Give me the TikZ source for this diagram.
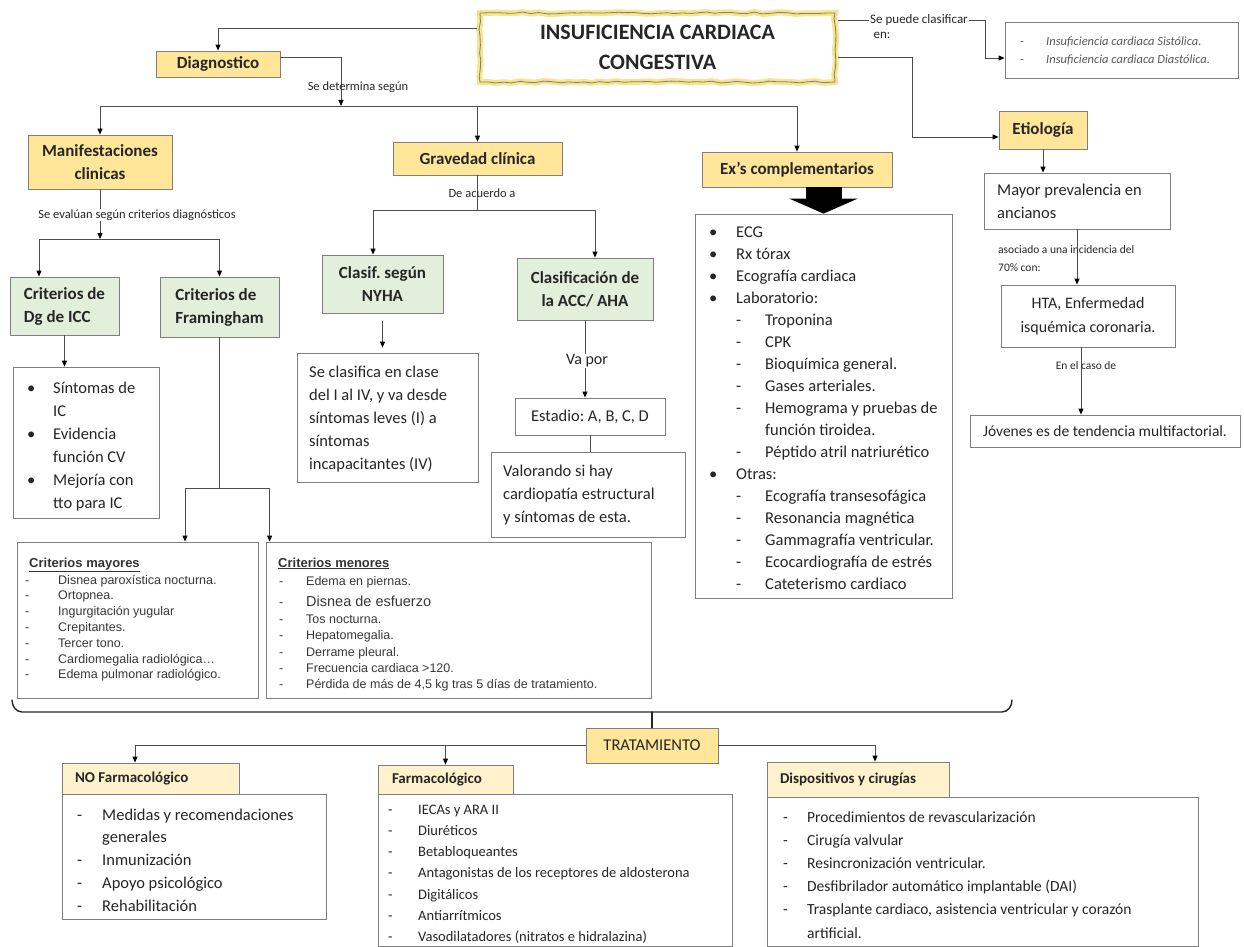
\documentclass[tikz,border=0pt]{standalone}
\usepackage{fontspec}
\setmainfont{Carlito}
\newfontfamily\arialfont{Liberation Sans}
\usetikzlibrary{arrows.meta,decorations.pathmorphing}
\frenchspacing

\definecolor{hdrgold}{HTML}{FFE699}
\definecolor{hdrpale}{HTML}{FFF2CC}
\definecolor{critgreen}{HTML}{E2EFDA}
\definecolor{boxedge}{HTML}{7F7F7F}
\definecolor{wire}{HTML}{4D4D4D}
\definecolor{ink}{HTML}{262626}
\definecolor{glow}{HTML}{F7E48C}

\newcommand\fsz[2]{\fontsize{#1}{#2}\selectfont}

\begin{document}
\begin{tikzpicture}[x=1pt, y=-1pt,
  every node/.style={text=ink, font=\fsz{16.5}{20}},
  box/.style={draw=boxedge, fill=white, line width=0.8pt, inner sep=0pt},
  gold/.style={box, fill=hdrgold, font=\fsz{17}{23}\bfseries},
  pale/.style={box, fill=hdrpale, font=\fsz{15}{18}\bfseries},
  crit/.style={box, fill=critgreen, font=\fsz{17}{23}\bfseries, align=left},
  ttl/.style={inner sep=0pt, decorate, decoration={random steps, segment length=8pt, amplitude=1pt},
    preaction={fill=white}, draw=glow, line width=6pt, postaction={draw=boxedge, line width=0.8pt},
    font=\fsz{22}{30}\bfseries, align=center},
  lbl/.style={inner sep=1pt, font=\fsz{12.5}{15}},
  li/.style={anchor=base west, inner sep=0pt},
  ali/.style={li, font=\arialfont\fsz{12.5}{15}, text=black!78},
  ln/.style={draw=wire, line width=0.9pt},
  arr/.style={ln, -{Triangle[length=6pt, width=5pt, color=black]}},
  blk/.style={draw=black, line width=36pt, -{Triangle[length=15pt 0 0, width=68pt 0 0]}},
  brace/.style={draw=black!85, line width=1.4pt, line cap=round},
]
\useasboundingbox (0,0) rectangle (1244,947);
\pgfmathsetseed{5}

% title and top row
\node[ttl, minimum width=355pt, minimum height=69pt] (icc) at (657.5,47.5) {INSUFICIENCIA CARDIACA\\CONGESTIVA};
\node[gold, minimum width=124pt, minimum height=26pt] (diag) at (218,64) {Diagnostico};
\node[box, minimum width=233pt, minimum height=56pt] (sis) at (1121.5,50) {};
\node[li, font=\fsz{12.5}{15}\itshape, text=black!65] (sism1) at (1020,46) {-};
\node[li, font=\fsz{12.5}{15}\itshape, text=black!65] (sist1) at (1046,46) {Insuficiencia cardiaca Sistólica.};
\node[li, font=\fsz{12.5}{15}\itshape, text=black!65] (sism2) at (1020,64) {-};
\node[li, font=\fsz{12.5}{15}\itshape, text=black!65] (sist2) at (1046,64) {Insuficiencia cardiaca Diastólica.};

% diagnostico branches
\node[gold, minimum width=144pt, minimum height=54pt, align=center] (man) at (100,162) {Manifestaciones\\clinicas};
\node[gold, minimum width=169pt, minimum height=33pt] (grav) at (477.5,158.5) {Gravedad clínica};
\node[gold, minimum width=190pt, minimum height=35pt] (exc) at (797,169.5) {Ex’s complementarios};

% manifestaciones
\node[crit, minimum width=109pt, minimum height=58pt] (dg) at (64.5,306) {Criterios de\\Dg de ICC};
\node[crit, minimum width=119pt, minimum height=60pt] (fr) at (219.5,307) {Criterios de\\Framingham};
\node[box, minimum width=146pt, minimum height=151pt] (dgl) at (86,442.5) {};
\foreach \m/\t [count=\i from 0] in {\textbullet/Síntomas de, /IC, \textbullet/Evidencia, /función CV, \textbullet/Mejoría con, /tto para IC} {
  \node[li] (dgm\i) at (27,{393+23*\i}) {\m};
  \node[li] (dgt\i) at (53,{393+23*\i}) {\t};
}

\node[box, minimum width=241pt, minimum height=156pt] (may) at (137.5,620) {};
\node[li, font=\arialfont\fsz{13}{15}\bfseries, text=black!80] (mayt) at (29,567) {\underline{Criterios mayores}};
\foreach \t [count=\i from 0] in {Disnea paroxística nocturna., Ortopnea., Ingurgitación yugular, Crepitantes., Tercer tono., Cardiomegalia radiológica\ldots, Edema pulmonar radiológico.} {
  \node[ali] (maym\i) at (25,{584+15.8*\i}) {-};
  \node[ali] (mayi\i) at (58,{584+15.8*\i}) {\t};
}
\node[box, minimum width=385pt, minimum height=156pt] (men) at (458.5,620) {};
\node[li, font=\arialfont\fsz{13}{15}\bfseries, text=black!80] (ment) at (278,567) {\underline{Criterios menores}};
\foreach \y [count=\i] in {585,606,623,639,656,672,688}
  \node[ali] (menm\i) at (279,\y) {-};
\foreach \y/\t [count=\i] in {585/Edema en piernas., 623/Tos nocturna., 639/Hepatomegalia., 656/Derrame pleural., 672/{Frecuencia cardiaca >120.}, 688/{Pérdida de más de 4,5 kg tras 5 días de tratamiento.}}
  \node[ali] (meni\i) at (306,\y) {\t};
\node[ali, font=\arialfont\fsz{14.5}{17}] (mend) at (306,606) {Disnea de esfuerzo};

% gravedad
\node[crit, minimum width=121pt, minimum height=58pt, align=center] (nyha) at (382.5,284) {Clasif. según\\NYHA};
\node[crit, minimum width=136pt, minimum height=62pt, align=center] (acc) at (585,289) {Clasificación de\\la ACC/ AHA};
\node[box, minimum width=181pt, minimum height=129pt] (nyt) at (387.5,417.5) {};
\foreach \t [count=\i from 0] in {Se clasifica en clase, {del I al IV, y va desde}, síntomas leves (I) a, síntomas, incapacitantes (IV)}
  \node[li] (nyt\i) at (309,{377+23*\i}) {\t};
\node[box, minimum width=150pt, minimum height=37pt] (est) at (590,416.5) {Estadio: A, B, C, D};
\node[box, minimum width=194pt, minimum height=85pt] (val) at (588,494.5) {};
\foreach \t [count=\i from 0] in {Valorando si hay, cardiopatía estructural, y síntomas de esta.}
  \node[li] (val\i) at (503,{476+23*\i}) {\t};

% examenes complementarios
\node[box, minimum width=257pt, minimum height=384pt] (exl) at (823.5,406) {};
\foreach \lv/\m/\t [count=\i from 0] in {0/\textbullet/ECG, 0/\textbullet/Rx tórax, 0/\textbullet/Ecografía cardiaca, 0/\textbullet/Laboratorio:, 1/-/Troponina, 1/-/CPK, 1/-/Bioquímica general., 1/-/Gases arteriales., 1/-/Hemograma y pruebas de, 1//función tiroidea., 1/-/Péptido atril natriurético, 0/\textbullet/Otras:, 1/-/Ecografía transesofágica, 1/-/Resonancia magnética, 1/-/Gammagrafía ventricular., 1/-/Ecocardiografía de estrés, 1/-/Cateterismo cardiaco} {
  \node[li] (exm\i) at ({709+27*\lv},{237+22*\i}) {\m};
  \node[li] (ext\i) at ({736+29*\lv},{237+22*\i}) {\t};
}

% etiologia
\node[gold, minimum width=88pt, minimum height=38pt] (eti) at (1043,130) {Etiología};
\node[box, minimum width=186pt, minimum height=56pt] (mayp) at (1077,201) {};
\node[li] (mayp1) at (997,195) {Mayor prevalencia en};
\node[li] (mayp2) at (997,218) {ancianos};
\node[box, minimum width=174pt, minimum height=62pt, align=center, font=\fsz{16}{24}] (hta) at (1088,316) {HTA, Enfermedad\\isquémica coronaria.};
\node[box, minimum width=270pt, minimum height=32pt, font=\fsz{15.5}{18}] (jov) at (1105,431) {Jóvenes es de tendencia multifactorial.};

% tratamiento
\node[gold, font=\fsz{16.5}{20}, minimum width=132pt, minimum height=35pt] (trat) at (652,745.5) {TRATAMIENTO};
\node[box, minimum width=264pt, minimum height=125pt] (nofl) at (194,856.5) {};
\node[pale, minimum width=177pt, minimum height=31pt] (nof) at (150.5,778.5) {\makebox[151pt][l]{NO Farmacológico}};
\foreach \m/\t [count=\i from 0] in {-/Medidas y recomendaciones, /generales, -/Inmunización, -/Apoyo psicológico, -/Rehabilitación} {
  \node[li] (nofm\i) at (77,{820+22.8*\i}) {\m};
  \node[li] (noft\i) at (102,{820+22.8*\i}) {\t};
}
\node[box, minimum width=354pt, minimum height=152pt] (farml) at (555,870) {};
\node[pale, minimum width=135pt, minimum height=29pt] (farm) at (445.5,779.5) {\makebox[107pt][l]{Farmacológico}};
\foreach \t [count=\i from 0] in {IECAs y ARA II, Diuréticos, Betabloqueantes, Antagonistas de los receptores de aldosterona, Digitálicos, Antiarrítmicos, Vasodilatadores (nitratos e hidralazina)} {
  \node[li, font=\fsz{14.5}{17}] (farmm\i) at (388,{814+21.3*\i}) {-};
  \node[li, font=\fsz{14.5}{17}] (farmt\i) at (418,{814+21.3*\i}) {\t};
}
\node[box, minimum width=431pt, minimum height=149pt] (displ) at (982.5,871.5) {};
\node[pale, minimum width=182pt, minimum height=35pt] (disp) at (858,779.5) {\makebox[156pt][l]{Dispositivos y cirugías}};
\foreach \m/\t [count=\i from 0] in {-/Procedimientos de revascularización, -/Cirugía valvular, -/Resincronización ventricular., -/Desfibrilador automático implantable (DAI), -/{Trasplante cardiaco, asistencia ventricular y corazón}, /artificial.} {
  \node[li, font=\fsz{15.5}{18}] (dispm\i) at (783,{822+23.2*\i}) {\m};
  \node[li, font=\fsz{15.5}{18}] (dispt\i) at (807,{822+23.2*\i}) {\t};
}

% connectors
\coordinate (dj) at (341,106);
\coordinate (mj) at (100,239);
\coordinate (fj) at (219.5,488);
\coordinate (gj) at (477.5,210);
\coordinate (sc) at (985,20);
\coordinate (etb) at (912,137);
\coordinate (bc) at (652,712);
\draw[arr] ([yshift=19.5pt]icc.west) -| (diag.north);
\draw[arr] ([yshift=27.5pt]icc.east) -- (sc) |- ([yshift=-8pt]sis.west);
\draw[arr] ([yshift=-9.5pt]icc.east) -| (etb) -- (etb -| eti.west);
\draw[arr] ([yshift=7pt]diag.east) -| (dj);
\draw[arr] (dj) -| (man.north);
\draw[arr] (dj) -| (grav.north);
\draw[arr] (dj) -| (exc.north);
\draw[arr] (man.south) -- (mj);
\draw[arr] (mj) -| ([xshift=-25.5pt]dg.north);
\draw[arr] (mj) -| (fr.north);
\draw[arr] (dg.south) -- (dg.south |- dgl.north);
\draw[ln] (fr.south) -- (fj);
\draw[arr] (fj) -| ([xshift=47.5pt]may.north);
\draw[arr] (fj) -| ([xshift=4pt]men.north west);
\draw[ln] (grav.south) -- (gj);
\draw[arr] (gj) -| ([xshift=-9.5pt]nyha.north);
\draw[arr] (gj) -| ([xshift=10pt]acc.north);
\draw[arr, shorten <=8pt, shorten >=5pt] (nyha.south) -- (nyha.south |- nyt.north);
\draw[arr] (acc.south) -- (acc.south |- est.north);
\draw[ln] (est.south) -- (est.south |- val.north);
\draw[blk] (exl.north |- exc.south) -- (exl.north);
\draw[arr] (eti.south) -- (eti.south |- mayp.north);
\draw[arr] (mayp.south) -- (mayp.south |- hta.north);
\draw[arr] ([xshift=-7pt]hta.south) -- ([xshift=-7pt]hta.south |- jov.north);
\draw[brace] (12,700) to[out=-90, in=180] (22,712) -- (1002,712) to[out=0, in=-90] (1012,700);
\draw[brace] (bc) -- (trat.north);
\draw[arr] (trat.west) -| ([xshift=-15.5pt]nof.north);
\draw[arr] (trat.west) -| (farm.north);
\draw[arr] (trat.east) -| ([xshift=17pt]disp.north);

% labels on the connectors
\node[lbl, fill=white, font=\fsz{13}{15}] (spc) at (919,20) {Se puede clasificar};
\node[lbl, font=\fsz{13}{15}] (spe) at (882,35) {en:};
\node[lbl] (sdet) at (358,87) {Se determina según};
\node[lbl, fill=white] (sev) at (137,215) {Se evalúan según criterios diagnósticos};
\node[lbl] (deac) at (482,193) {De acuerdo a};
\node[lbl, fill=white, font=\fsz{16}{18}] (vapor) at (587,361) {Va por};
\node[li, font=\fsz{11.5}{14}] (aso1) at (998,253) {asociado a una incidencia del};
\node[li, font=\fsz{11.5}{14}] (aso2) at (998,271) {70\% con:};
\node[lbl, font=\fsz{11.5}{14}] (caso) at (1086,366) {En el caso de};
\end{tikzpicture}
\end{document}
